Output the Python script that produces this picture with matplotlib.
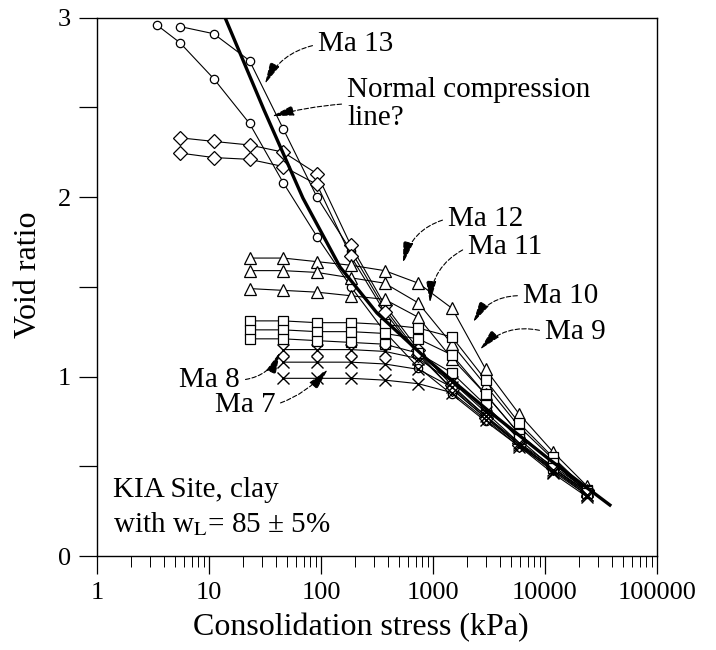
import matplotlib
matplotlib.use("Agg")
import matplotlib.pyplot as plt
from matplotlib.ticker import MultipleLocator, FixedLocator, FuncFormatter, LogLocator, NullFormatter

plt.rcParams['font.family'] = ['Liberation Serif', 'DejaVu Serif']
plt.rcParams['mathtext.fontset'] = 'stix'

# load steps (kPa)
p_c2 = [3.4, 5.5, 11, 23, 46, 92, 185, 370, 740, 1480, 2960, 5900, 11800, 23700]
p_long = [5.5, 11, 23, 46, 92, 185, 370, 740, 1480, 2960, 5900, 11800, 23700]
p_tri = [23, 46, 92, 185, 370, 740, 1480, 2960, 5900, 11800, 23700]
p_x = [46, 92, 185, 370, 740, 1480, 2960, 5900, 11800, 23700]

# Ma 13 - circles
e_c1 = [2.95, 2.91, 2.76, 2.38, 2.00, 1.70, 1.38, 1.13, 0.93, 0.77, 0.62, 0.49, 0.36]
e_c2 = [2.96, 2.86, 2.66, 2.41, 2.08, 1.78, 1.50, 1.25, 1.05, 0.90, 0.75, 0.61, 0.48, 0.35]
# diamonds
e_d1 = [2.33, 2.31, 2.29, 2.25, 2.13, 1.73, 1.40, 1.15, 0.95, 0.78, 0.63, 0.50, 0.37]
e_d2 = [2.245, 2.22, 2.21, 2.17, 2.07, 1.67, 1.36, 1.12, 0.93, 0.77, 0.62, 0.49, 0.36]
# Ma 12 / Ma 11 - triangles
e_t1 = [1.66, 1.66, 1.64, 1.62, 1.59, 1.52, 1.38, 1.04, 0.79, 0.58, 0.39]
e_t2 = [1.59, 1.59, 1.58, 1.55, 1.52, 1.41, 1.18, 0.95, 0.72, 0.54, 0.37]
e_t3 = [1.49, 1.48, 1.47, 1.45, 1.43, 1.33, 1.10, 0.90, 0.68, 0.52, 0.36]
# Ma 10 / Ma 9 - squares
e_s1 = [1.31, 1.31, 1.30, 1.30, 1.29, 1.27, 1.22, 0.98, 0.74, 0.55, 0.37]
e_s2 = [1.26, 1.26, 1.25, 1.25, 1.24, 1.21, 1.12, 0.90, 0.68, 0.52, 0.36]
e_s3 = [1.21, 1.21, 1.20, 1.19, 1.18, 1.13, 1.02, 0.84, 0.65, 0.49, 0.35]
# Ma 8 / Ma 7 - crosses
e_x1 = [1.15, 1.15, 1.15, 1.14, 1.10, 0.97, 0.80, 0.63, 0.48, 0.34]
e_x2 = [1.08, 1.08, 1.08, 1.07, 1.04, 0.94, 0.78, 0.62, 0.47, 0.34]
e_x3 = [0.99, 0.99, 0.99, 0.98, 0.96, 0.91, 0.76, 0.61, 0.46, 0.33]

# normal compression line
p_ncl = [13.9, 31, 69, 148, 316, 940, 3230, 11100, 38000]
e_ncl = [3.0, 2.485, 1.994, 1.61, 1.354, 1.081, 0.802, 0.535, 0.284]

fig = plt.figure(figsize=(7.16, 6.5), dpi=100)
ax = fig.add_axes([0.1355, 0.1446, 0.782, 0.8284])

mk = dict(color='black', lw=0.8, mfc='white', mec='black', mew=0.9)
ax.plot(p_long, e_c1, marker='o', ms=6, **mk)
ax.plot(p_c2, e_c2, marker='o', ms=6, **mk)
ax.plot(p_long, e_d1, marker='D', ms=7, **mk)
ax.plot(p_long, e_d2, marker='D', ms=7, **mk)
for e in (e_t1, e_t2, e_t3):
    ax.plot(p_tri, e, marker='^', ms=8, **mk)
for e in (e_s1, e_s2, e_s3):
    ax.plot(p_tri, e, marker='s', ms=7, **mk)
for e in (e_x1, e_x2, e_x3):
    ax.plot(p_x, e, marker='x', ms=8, color='black', lw=0.8, mew=1.0)
ax.plot(p_ncl, e_ncl, color='black', lw=2.4)

ax.set_xscale('log')
ax.set_xlim(1, 100000)
ax.set_ylim(0, 3)

ax.xaxis.set_major_locator(FixedLocator([1, 10, 100, 1000, 10000, 100000]))
ax.xaxis.set_major_formatter(FuncFormatter(lambda v, p: '%d' % round(v)))
ax.xaxis.set_minor_locator(LogLocator(base=10, subs=range(2, 10)))
ax.xaxis.set_minor_formatter(NullFormatter())
ax.yaxis.set_major_locator(MultipleLocator(0.5))
ax.yaxis.set_major_formatter(FuncFormatter(lambda v, p: '%d' % v if abs(v - round(v)) < 1e-6 else ''))

ax.tick_params(which='major', direction='out', length=13, width=0.9, labelsize=19, pad=6)
ax.tick_params(which='minor', direction='out', length=8, width=0.7)
for s in ax.spines.values():
    s.set_linewidth(1.0)

ax.set_xlabel('Consolidation stress (kPa)', fontsize=23)
ax.xaxis.set_label_coords(0.471, -0.106)
ax.set_ylabel('Void ratio', fontsize=23)
ax.yaxis.set_label_coords(-0.097, 0.522)

arr = dict(arrowstyle='-|>,head_length=0.65,head_width=0.15', color='black', lw=0.8,
           linestyle=(0, (4, 2)), shrinkA=2, shrinkB=0)

def note(text, tip, pos, rad, ha='left', relpos=(0, 0.5)):
    a = dict(arr, connectionstyle='arc3,rad=%s' % rad, relpos=relpos)
    ax.annotate(text, xy=tip, xytext=pos, ha=ha, va='center', fontsize=21,
                arrowprops=a, linespacing=1.1)

note('Ma 13', (31.6, 2.63), (94, 2.85), 0.25)
note('Normal compression\nline?', (36.5, 2.45), (171, 2.52), 0.05)
note('Ma 12', (540, 1.63), (1360, 1.88), 0.3)
note('Ma 11', (940, 1.41), (2050, 1.72), 0.3)
note('Ma 10', (2280, 1.30), (6360, 1.45), 0.3)
note('Ma 9', (2630, 1.15), (10000, 1.25), 0.3)
note('Ma 8', (43, 1.136), (18.9, 0.98), 0.3, ha='right', relpos=(1, 0.5))
note('Ma 7', (115, 1.04), (11.2, 0.84), 0.3)

ax.text(1.39, 0.37, 'KIA Site, clay', fontsize=21, va='center')
ax.text(1.39, 0.175, r'with w$_{\mathrm{L}}$= 85 ± 5%', fontsize=21, va='center')

fig.savefig('out.png', dpi=100)
